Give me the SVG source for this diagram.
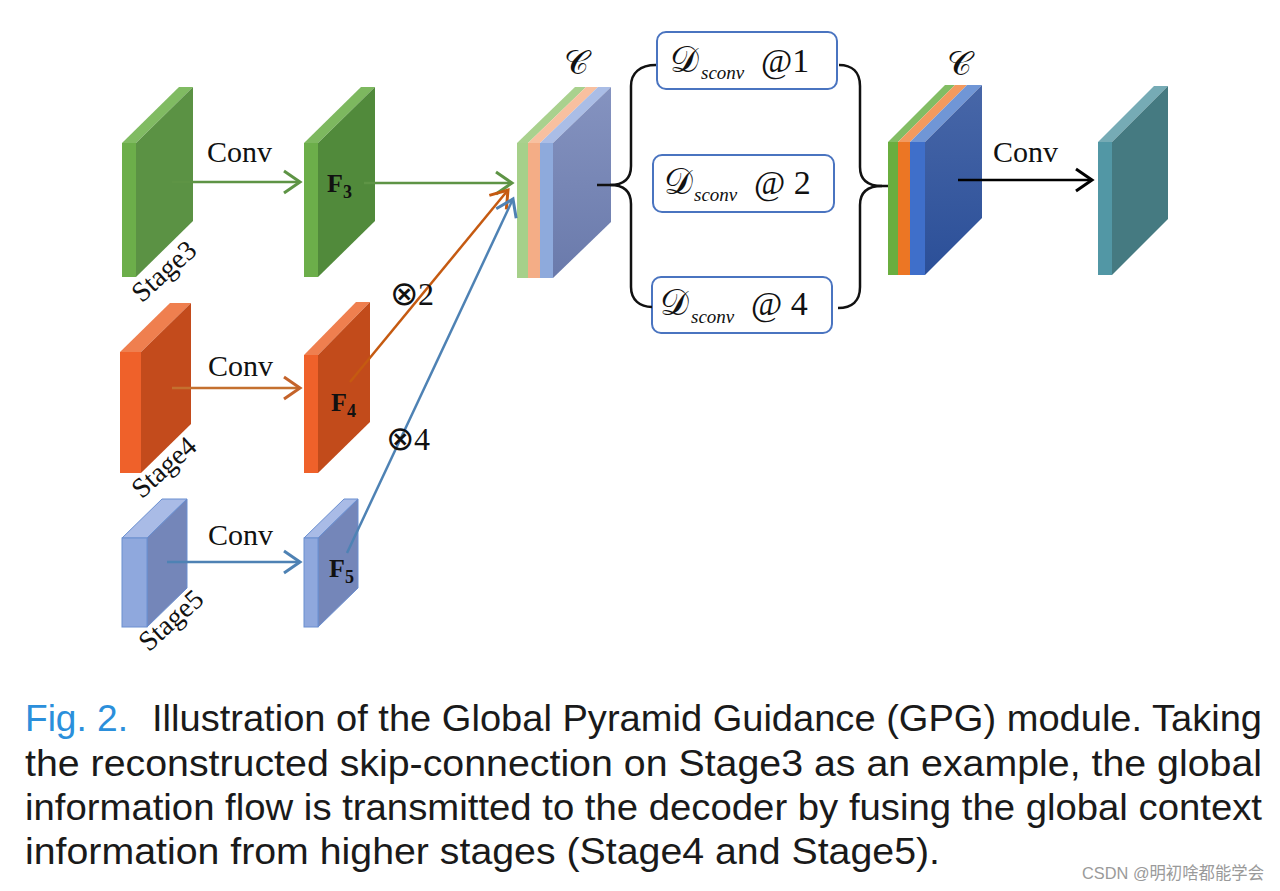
<svg xmlns="http://www.w3.org/2000/svg" width="1280" height="891" viewBox="0 0 1280 891">
<style>
.serif{font-family:"Liberation Serif","DejaVu Serif",serif;fill:#111}
.conv{font-size:30px}
.flab{font-size:26px;font-weight:bold}
.fsub{font-size:18px;font-weight:bold}
.stage{font-size:28px}
.math{font-family:"DejaVu Serif","Liberation Serif",serif;fill:#111}
.sub{font-family:"Liberation Serif",serif;font-style:italic;font-size:19px;fill:#111}
.big{font-family:"Liberation Serif","DejaVu Serif",serif;font-size:34px;fill:#111}
.cap{font-family:"Liberation Sans",Arial,sans-serif;font-size:37px;fill:#1a1a1a}
.box{fill:#fff;stroke:#4a74c0;stroke-width:2}
.brace{fill:none;stroke:#111;stroke-width:2.5}
.ln{fill:none;stroke-width:2.5}
.ot{font-family:"DejaVu Sans",sans-serif;font-size:34px;font-weight:200}
</style>
<defs>
<marker id="mg" markerUnits="userSpaceOnUse" markerWidth="26" markerHeight="28" refX="18" refY="13" orient="auto"><path d="M2,2 L18,13 L2,24" fill="none" stroke="#5e9445" stroke-width="3"/></marker>
<marker id="mo" markerUnits="userSpaceOnUse" markerWidth="26" markerHeight="28" refX="18" refY="13" orient="auto"><path d="M2,2 L18,13 L2,24" fill="none" stroke="#c4632a" stroke-width="3"/></marker>
<marker id="mo2" markerUnits="userSpaceOnUse" markerWidth="26" markerHeight="28" refX="18" refY="13" orient="auto"><path d="M2,2 L18,13 L2,24" fill="none" stroke="#c55a11" stroke-width="3"/></marker>
<marker id="mb" markerUnits="userSpaceOnUse" markerWidth="26" markerHeight="28" refX="18" refY="13" orient="auto"><path d="M2,2 L18,13 L2,24" fill="none" stroke="#4e82b4" stroke-width="3"/></marker>
<marker id="mk" markerUnits="userSpaceOnUse" markerWidth="26" markerHeight="28" refX="18" refY="13" orient="auto"><path d="M2,2 L18,13 L2,24" fill="none" stroke="#000" stroke-width="3"/></marker>
<linearGradient id="gc1" x1="0" y1="0" x2="0" y2="1"><stop offset="0" stop-color="#8593c0"/><stop offset="1" stop-color="#6a7aab"/></linearGradient>
<linearGradient id="gc2" x1="0" y1="0" x2="0" y2="1"><stop offset="0" stop-color="#4867a8"/><stop offset="1" stop-color="#2b4f98"/></linearGradient>
</defs>

<g id="stage3">
<polygon points="122,143 179,87 193,87 136,143" fill="#80bb62"/>
<polygon points="136,143 193,87 193,221 136,277" fill="#5b9244"/>
<rect x="122" y="143" width="14" height="134" fill="#6cae4a"/>
<text class="serif stage" transform="translate(170,278) rotate(-42)" text-anchor="middle">Stage3</text>
</g>
<g id="f3">
<polygon points="304,143 361,87 375,87 318,143" fill="#7db85f"/>
<polygon points="318,143 375,87 375,221 318,277" fill="#518a3b"/>
<rect x="304" y="143" width="14" height="134" fill="#6cae4a"/>
<text class="serif flab" x="327" y="192">F<tspan class="fsub" dy="6">3</tspan></text>
</g>
<g id="stage4">
<polygon points="120,352 170,303 191,303 141,352" fill="#ef7f4f"/>
<polygon points="141,352 191,303 191,424 141,473" fill="#c34b1c"/>
<rect x="120" y="352" width="21" height="121" fill="#ef612a"/>
<text class="serif stage" transform="translate(170,474) rotate(-42)" text-anchor="middle">Stage4</text>
</g>
<g id="f4">
<polygon points="304,355 356,302 370,302 318,355" fill="#ef7f4f"/>
<polygon points="318,355 370,302 370,422 318,473" fill="#c24b1b"/>
<rect x="304" y="355" width="14" height="118" fill="#ef612a"/>
<text class="serif flab" x="331" y="411">F<tspan class="fsub" dy="6">4</tspan></text>
</g>
<g id="stage5">
<polygon points="122,538 162,499 187,499 147,538" fill="#a9bbe6" stroke="#6a8fd0" stroke-width="1"/>
<polygon points="147,538 187,499 187,588 147,627" fill="#7486b9" stroke="#6a8fd0" stroke-width="1"/>
<rect x="122" y="538" width="25" height="89" fill="#8fa8dd" stroke="#6a8fd0" stroke-width="1"/>
<text class="serif stage" transform="translate(177,627) rotate(-42)" text-anchor="middle">Stage5</text>
</g>
<g id="f5">
<polygon points="304,538 344,499 358,499 318,538" fill="#a9bbe6" stroke="#6a8fd0" stroke-width="1"/>
<polygon points="318,538 358,499 358,588 318,627" fill="#7486b9" stroke="#6a8fd0" stroke-width="1"/>
<rect x="304" y="538" width="14" height="89" fill="#8fa8dd" stroke="#6a8fd0" stroke-width="1"/>
<text class="serif flab" x="329" y="577">F<tspan class="fsub" dy="6">5</tspan></text>
</g>

<g id="concat1">
<polygon points="517,143 575,87 586,87 528,143" fill="#a9d18e"/>
<polygon points="528,143 586,87 598,87 540,143" fill="#f8c0a0"/>
<polygon points="540,143 598,87 611,87 553,143" fill="#aabde6"/>
<polygon points="553,143 611,87 611,222 553,278" fill="url(#gc1)"/>
<rect x="517" y="143" width="11" height="135" fill="#a6d08a"/>
<rect x="528" y="143" width="12" height="135" fill="#f4ad86"/>
<rect x="540" y="143" width="13" height="135" fill="#8eaadc"/>
<text class="math" x="564" y="74" font-size="34">𝒞</text>
</g>

<g id="d1">
<rect class="box" x="657" y="32" width="180" height="57" rx="9"/>
<text x="670" y="72"><tspan class="math" font-size="36">𝒟</tspan><tspan class="sub" x="701" y="79">sconv</tspan><tspan class="big" x="761" y="72">@1</tspan></text>
</g>
<g id="d2">
<rect class="box" x="653" y="155" width="181" height="57" rx="9"/>
<text x="664" y="194"><tspan class="math" font-size="36">𝒟</tspan><tspan class="sub" x="694" y="201">sconv</tspan><tspan class="big" x="754" y="194">@ 2</tspan></text>
</g>
<g id="d4">
<rect class="box" x="652" y="277" width="180" height="56" rx="9"/>
<text x="660" y="315"><tspan class="math" font-size="36">𝒟</tspan><tspan class="sub" x="691" y="323">sconv</tspan><tspan class="big" x="751" y="315">@ 4</tspan></text>
</g>

<g id="concat2">
<polygon points="888,142 945,85 955,85 898,142" fill="#82bd64"/>
<polygon points="898,142 955,85 967,85 910,142" fill="#f39a5f"/>
<polygon points="910,142 967,85 982,85 925,142" fill="#7096d6"/>
<polygon points="925,142 982,85 982,218 925,275" fill="url(#gc2)"/>
<rect x="888" y="142" width="10" height="133" fill="#6aae3f"/>
<rect x="898" y="142" width="12" height="133" fill="#ec7624"/>
<rect x="910" y="142" width="15" height="133" fill="#3f6fca"/>
<text class="math" x="947" y="75" font-size="34">𝒞</text>
</g>

<g id="output">
<polygon points="1098,142 1154,86 1168,86 1112,142" fill="#76abb5"/>
<polygon points="1112,142 1168,86 1168,219 1112,275" fill="#457a81"/>
<rect x="1098" y="142" width="14" height="133" fill="#5297a5"/>
</g>

<g id="connectors">
<path class="ln" d="M172,182 L300,182" stroke="#5e9445" marker-end="url(#mg)"/>
<path class="ln" d="M364,183 L512,183" stroke="#5e9445" marker-end="url(#mg)"/>
<path class="ln" d="M172,388 L300,388" stroke="#c4702f" marker-end="url(#mo)"/>
<path class="ln" d="M350,382 L508,190" stroke="#c55a11" marker-end="url(#mo2)"/>
<path class="ln" d="M167,562 L300,562" stroke="#4e82b4" marker-end="url(#mb)"/>
<path class="ln" d="M347,553 L513,199" stroke="#4e82b4" marker-end="url(#mb)"/>
<path class="ln" d="M958,180 L1092,180" stroke="#000" marker-end="url(#mk)"/>
<path class="brace" d="M597,185 H610 C622,185 631,180 631,166 V86 C631,73 640,65 656,65"/>
<path class="brace" d="M610,185 C622,185 631,190 631,204 V287 C631,300 640,307 652,307"/>
<path class="brace" d="M839,65 C852,65 860,72 860,86 V167 C860,180 868,186 882,186 H888"/>
<path class="brace" d="M838,308 C852,308 860,301 860,287 V205 C860,192 868,186 882,186"/>
<text class="serif conv" x="207" y="162">Conv</text>
<text class="serif conv" x="208" y="376">Conv</text>
<text class="serif conv" x="208" y="545">Conv</text>
<text class="serif conv" x="993" y="162">Conv</text>
<text class="serif" x="390" y="305" font-size="32"><tspan class="ot">⊗</tspan>2</text>
<text class="serif" x="386" y="450" font-size="32"><tspan class="ot">⊗</tspan>4</text>
</g>

<g id="caption">
<text class="cap" x="25" y="731" textLength="103" lengthAdjust="spacingAndGlyphs" style="fill:#2b8fdb">Fig. 2.</text>
<text class="cap" x="152" y="731" textLength="1110" lengthAdjust="spacingAndGlyphs">Illustration of the Global Pyramid Guidance (GPG) module. Taking</text>
<text class="cap" x="25" y="776" textLength="1237" lengthAdjust="spacingAndGlyphs">the reconstructed skip-connection on Stage3 as an example, the global</text>
<text class="cap" x="25" y="820" textLength="1237" lengthAdjust="spacingAndGlyphs">information flow is transmitted to the decoder by fusing the global context</text>
<text class="cap" x="25" y="864" textLength="915" lengthAdjust="spacingAndGlyphs">information from higher stages (Stage4 and Stage5).</text>
<text x="1082" y="879" font-family="Liberation Sans,'Noto Sans CJK SC',sans-serif" font-size="17" fill="#9a9a9a" textLength="182" lengthAdjust="spacingAndGlyphs">CSDN @明初啥都能学会</text>
</g>
</svg>
